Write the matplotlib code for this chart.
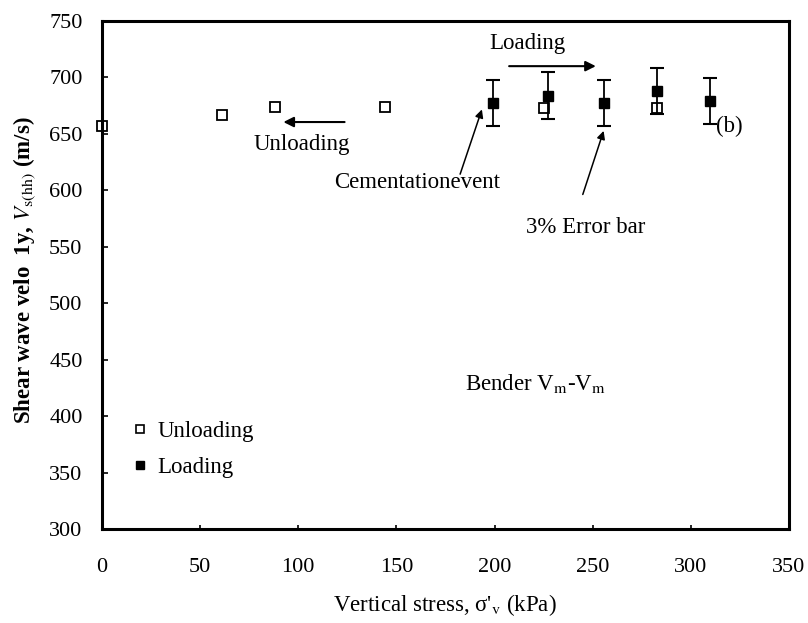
import matplotlib
matplotlib.use("Agg")
import matplotlib.pyplot as plt
from matplotlib.lines import Line2D

plt.rcParams['font.family'] = ['Liberation Serif', 'DejaVu Serif']
plt.rcParams['mathtext.fontset'] = 'stix'

# donnees
unload_x = [0, 61, 88, 144, 225, 283]
unload_y = [657, 667, 674, 674, 673, 673]
load_x = [199, 227, 256, 283, 310]
load_y = [677, 684, 677, 688, 679]
err_pct = 0.03
load_err = [v * err_pct for v in load_y]

xticks = [0, 50, 100, 150, 200, 250, 300, 350]
yticks = [300, 350, 400, 450, 500, 550, 600, 650, 700, 750]

fs = 16.5

fig = plt.figure(figsize=(8.08, 6.23), dpi=100)
ax = fig.add_axes([102/808, 1 - 529/623, 687/808, 508/623])

ax.plot(unload_x, unload_y, 's', mfc='white', mec='black', mew=1.3, ms=7,
        zorder=2, clip_on=False)
ax.errorbar(load_x, load_y, yerr=load_err, fmt='s', mfc='black', mec='black',
            ms=7, ecolor='black', elinewidth=1.3, capsize=5, capthick=1.5, zorder=3)

ax.set_xlim(0, 350)
ax.set_ylim(300, 750)
ax.set_xticks(xticks)
ax.set_yticks(yticks)
ax.tick_params(axis='both', direction='in', labelsize=16, length=4, width=1.2)
ax.tick_params(axis='x', pad=21, length=3)
ax.tick_params(axis='y', pad=14)
for s in ax.spines.values():
    s.set_linewidth(2.2)

# fleches et textes
ax.annotate('', xy=(253, 710), xytext=(206, 710),
            arrowprops=dict(arrowstyle='-|>', color='black', lw=1.5, mutation_scale=15))
ax.text(216.5, 730.5, 'Loading', fontsize=fs, ha='center', va='center')
ax.annotate('', xy=(91, 660.5), xytext=(125, 660.5),
            arrowprops=dict(arrowstyle='-|>', color='black', lw=1.5, mutation_scale=15))
ax.text(102, 641, 'Unloading', fontsize=fs, ha='center', va='center')
ax.annotate('', xy=(194, 674), xytext=(182, 612),
            arrowprops=dict(arrowstyle='-|>', color='black', lw=1.1, mutation_scale=12))
ax.text(160.5, 607, 'Cementationevent', fontsize=fs, ha='center', va='center')
ax.annotate('', xy=(256, 655), xytext=(244.5, 594),
            arrowprops=dict(arrowstyle='-|>', color='black', lw=1.1, mutation_scale=12))
ax.text(246.5, 567.5, '3% Error bar', fontsize=fs, ha='center', va='center')
ax.text(313, 657, '(b)', fontsize=fs, ha='left', va='center')
ax.text(185, 429, r'Bender V$_{\rm m}$-V$_{\rm m}$', fontsize=fs, ha='left', va='center')

handles = [Line2D([], [], ls='none', marker='s', mfc='white', mec='black', mew=1.2, ms=6),
           Line2D([], [], ls='none', marker='s', mfc='black', mec='black', ms=6)]
ax.legend(handles, ['Unloading', 'Loading'], loc='upper left', bbox_to_anchor=(0.022, 0.245),
          frameon=False, fontsize=fs, handlelength=0.6, handletextpad=0.45, borderpad=0.2,
          labelspacing=0.65, numpoints=1)

fig.text(445/808, 1 - 605/623, r"Vertical stress, σ'$_{\rm v}$ (kPa)", fontsize=fs,
         ha='center', va='center')
fig.text(24/808, 1 - 270/623, r"Shear wave velo  1y, $\mathbf{\mathit{V}}_{\rm s(hh)}$ (m/s)",
         fontsize=fs, fontweight='bold', ha='center', va='center', rotation=90)

fig.savefig('out.png', dpi=100)
